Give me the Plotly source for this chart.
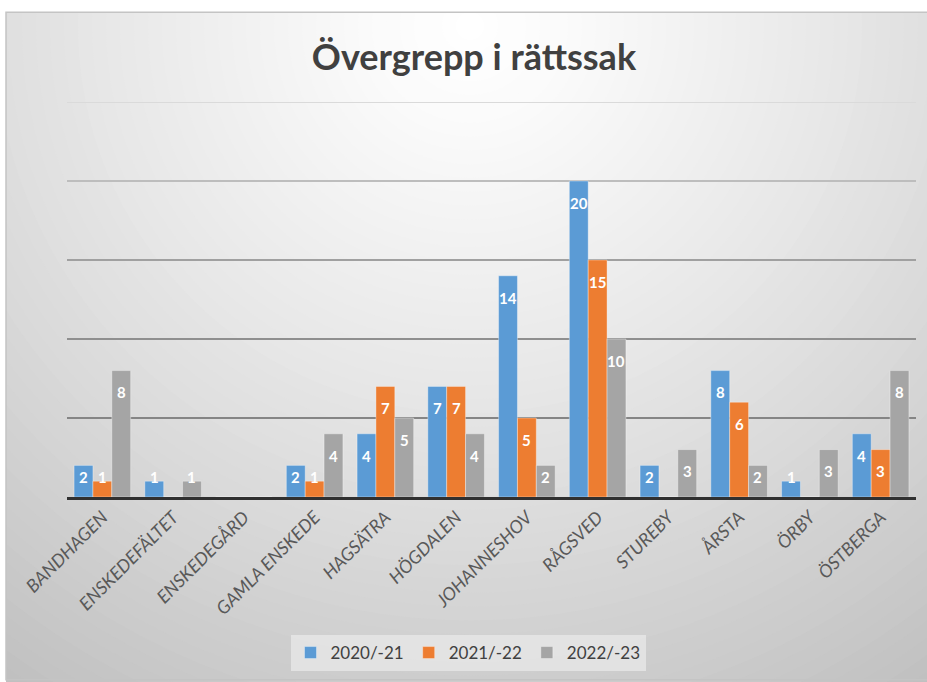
import plotly.graph_objects as go

categories = ["BANDHAGEN", "ENSKEDEFÄLTET", "ENSKEDEGÅRD", "GAMLA ENSKEDE", "HAGSÄTRA",
              "HÖGDALEN", "JOHANNESHOV", "RÅGSVED", "STUREBY", "ÅRSTA", "ÖRBY", "ÖSTBERGA"]
series_names = ["2020/-21", "2021/-22", "2022/-23"]
v2020 = [2, 1, 0, 2, 4, 7, 14, 20, 2, 8, 1, 4]
v2021 = [1, 0, 0, 1, 7, 7, 5, 15, 0, 6, 0, 3]
v2022 = [8, 1, 0, 4, 5, 4, 2, 10, 3, 2, 3, 8]
colors = ["#5B9BD5", "#ED7D31", "#A5A5A5"]
grid_values = [5, 10, 15, 20, 25]
grid_colors = ["#858585", "#8F8F8F", "#A0A0A0", "#BDBDBD", "#DADADA"]

W, H = 927, 682
ML, MR, MT, MB = 67, 11, 102, 180
PW, PH = W - ML - MR, H - MT - MB
BARGAP = 0.2

def px_x(px):
    return (px - ML) / PW

def px_y(py):
    return (H - MB - py) / PH

fig = go.Figure()
all_vals = [v2020, v2021, v2022]
for name, vals, col in zip(series_names, all_vals, colors):
    fig.add_trace(go.Bar(
        x=categories, y=vals, name=name,
        marker=dict(color=col, line=dict(color="rgba(255,255,255,0.35)", width=1)),
        hoverinfo="x+y+name",
    ))

# background radial gradient (shapes)
shapes = []
cx, cy = 470, 25
rmax = 840
step = 14
r = rmax
while r > 0:
    t = min(r / 780.0, 1.1)
    c = int(round(255 - 60 * (t ** 1.25)))
    c = max(min(c, 255), 180)
    shapes.append(dict(type="circle", xref="paper", yref="paper",
                       x0=px_x(cx - r), x1=px_x(cx + r), y0=px_y(cy + r), y1=px_y(cy - r),
                       fillcolor=f"rgb({c},{c},{c})", line=dict(width=0), layer="below"))
    r -= step
# white margins outside the chart frame
shapes.append(dict(type="rect", xref="paper", yref="paper", x0=px_x(-50), x1=px_x(6),
                   y0=px_y(H + 50), y1=px_y(-50), fillcolor="white", line=dict(width=0), layer="below"))
shapes.append(dict(type="rect", xref="paper", yref="paper", x0=px_x(-50), x1=px_x(W + 50),
                   y0=px_y(11), y1=px_y(-50), fillcolor="white", line=dict(width=0), layer="below"))
shapes.append(dict(type="rect", xref="paper", yref="paper", x0=px_x(6), x1=px_x(W + 5),
                   y0=px_y(H + 5), y1=px_y(11), fillcolor="rgba(0,0,0,0)",
                   line=dict(color="#C4C4C4", width=1.5), layer="below"))
# gridlines
for gv, gc in zip(grid_values, grid_colors):
    shapes.append(dict(type="line", xref="paper", yref="y", x0=0, x1=1, y0=gv, y1=gv,
                       line=dict(color=gc, width=2), layer="below"))

# data labels
bw = PW / len(categories) * (1 - BARGAP) / 3
annotations = []
for i, vals in enumerate(all_vals):
    for cat, v in zip(categories, vals):
        if v <= 0:
            continue
        ly = max(v - 22 / 16, 20 / 16)
        annotations.append(dict(x=cat, y=ly, xref="x", yref="y", text=str(v), showarrow=False,
                                xshift=(i - 1) * bw, yanchor="middle", xanchor="center",
                                font=dict(family="Lato", size=15, color="white", weight="bold")))

fig.update_layout(
    width=W, height=H,
    margin=dict(l=ML, r=MR, t=MT, b=MB),
    paper_bgcolor="white", plot_bgcolor="rgba(0,0,0,0)",
    barmode="group", bargap=BARGAP, bargroupgap=0,
    title=dict(text="<b>Övergrepp i rättssak</b>", x=474 / W, xanchor="center",
               y=1 - 57 / H, yanchor="middle", xref="container", yref="container",
               font=dict(family="Lato", size=36, color="#404040")),
    xaxis=dict(tickangle=-45, showline=True, linecolor="#303030", linewidth=2.5,
               ticks="", showgrid=False,
               tickfont=dict(family="Lato", size=18, color="#595959", style="italic")),
    yaxis=dict(range=[0, 25], showgrid=False, zeroline=False, showticklabels=False, ticks=""),
    legend=dict(orientation="h", x=px_x(468), xanchor="center", y=px_y(660), yanchor="middle",
                bgcolor="rgba(235,235,235,0.7)", font=dict(family="Lato", size=17, color="#404040"),
                itemwidth=30, traceorder="normal"),
    shapes=shapes, annotations=annotations, showlegend=True,
)

fig.write_html("out.html", config={"displayModeBar": False},
               post_script="document.body.style.margin='0';document.body.style.overflow='hidden';")
